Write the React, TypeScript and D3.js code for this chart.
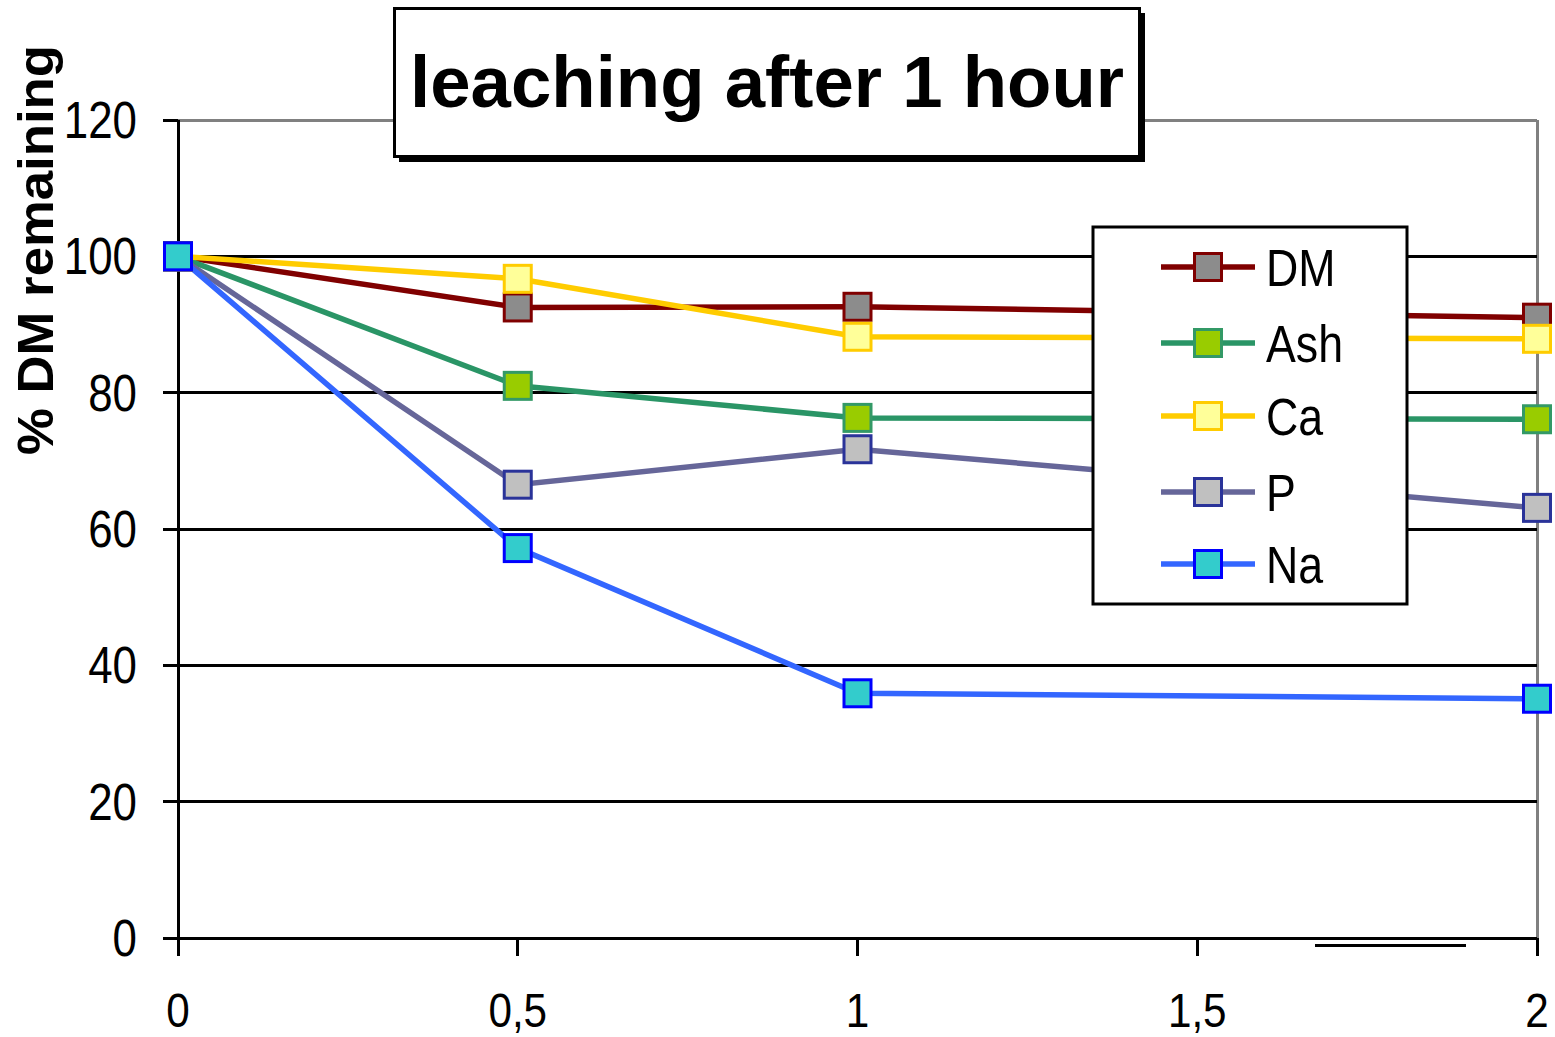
import React from "react";
import * as d3 from "d3";

const xValues = [0, 0.5, 1, 2];
const seriesNames = ["DM", "Ash", "Ca", "P", "Na"];
const dmValues = [100, 92.5, 92.6, 91.0];
const ashValues = [100, 81.0, 76.3, 76.1];
const caValues = [100, 96.7, 88.2, 87.9];
const pValues = [100, 66.5, 71.7, 63.1];
const naValues = [100, 57.2, 35.9, 35.1];
const yTicks = [0, 20, 40, 60, 80, 100, 120];
const xTicks = [0, 0.5, 1, 1.5, 2];
const xTickLabels = ["0", "0,5", "1", "1,5", "2"];

const lineColors = ["#800000", "#2A9566", "#FFCC00", "#666699", "#3366FF"];
const fillColors = ["#8C8C8C", "#99CC00", "#FFFF99", "#C0C0C0", "#33CCCC"];
const strokeColors = ["#800000", "#339966", "#FFCC00", "#2A3399", "#0000FF"];

const FONT = "'Liberation Sans', Arial, sans-serif";

export default function App() {
  const W = 1555, H = 1037;
  const x = d3.scaleLinear().domain([0, 2]).range([178, 1537]);
  const y = d3.scaleLinear().domain([0, 120]).range([938, 120]);
  const all = [dmValues, ashValues, caValues, pValues, naValues];
  const line = d3
    .line<number>()
    .x((_, i) => x(xValues[i]))
    .y((d) => y(d))
    .curve(d3.curveLinear);
  const ms = 27;
  return (
    <svg width={W} height={H} style={{ position: "absolute", left: 0, top: 0, background: "#fff" }}>
      <rect x={0} y={0} width={W} height={H} fill="#fff" />
      <g shapeRendering="crispEdges">
        <line x1={178} x2={1537} y1={120} y2={120} stroke="#808080" strokeWidth={3} />
        <line x1={1537} x2={1537} y1={120} y2={938} stroke="#808080" strokeWidth={3} />
        {yTicks.filter((t) => t > 0 && t < 120).map((t) => (
          <line key={t} x1={163} x2={1537} y1={y(t)} y2={y(t)} stroke="#000" strokeWidth={3} />
        ))}
        <line x1={178} x2={178} y1={120} y2={956} stroke="#000" strokeWidth={3} />
        {yTicks.map((t) => (
          <line key={"yt" + t} x1={163} x2={178} y1={y(t)} y2={y(t)} stroke="#000" strokeWidth={3} />
        ))}
        <line x1={163} x2={1537} y1={938} y2={938} stroke="#000" strokeWidth={3} />
        {xTicks.map((t) => (
          <line key={"xt" + t} x1={x(t)} x2={x(t)} y1={938} y2={956} stroke="#000" strokeWidth={3} />
        ))}
        <line x1={1315} x2={1466} y1={945} y2={945} stroke="#000" strokeWidth={3} />
      </g>
      {yTicks.map((t) => (
        <text
          key={"yl" + t}
          transform={`translate(137,${y(t) + 18}) scale(0.86,1)`}
          textAnchor="end"
          fontFamily={FONT}
          fontSize={51}
          fill="#000"
        >
          {t}
        </text>
      ))}
      {xTicks.map((t, i) => (
        <text
          key={"xl" + t}
          transform={`translate(${x(t)},1027) scale(0.88,1)`}
          textAnchor="middle"
          fontFamily={FONT}
          fontSize={48}
          fill="#000"
        >
          {xTickLabels[i]}
        </text>
      ))}
      <text
        transform={`translate(53,250) rotate(-90)`}
        textAnchor="middle"
        fontFamily={FONT}
        fontWeight="bold"
        fontSize={50}
        fill="#000"
        textLength={410}
        lengthAdjust="spacingAndGlyphs"
      >
        % DM remaining
      </text>
      {all.map((vals, si) => (
        <path key={"l" + si} d={line(vals) || ""} fill="none" stroke={lineColors[si]} strokeWidth={5.5} />
      ))}
      {all.map((vals, si) =>
        vals.map((v, i) => (
          <rect
            key={"m" + si + "-" + i}
            x={x(xValues[i]) - ms / 2}
            y={y(v) - ms / 2}
            width={ms}
            height={ms}
            fill={fillColors[si]}
            stroke={strokeColors[si]}
            strokeWidth={3}
          />
        ))
      )}
      <rect x={399} y={13} width={746} height={149} fill="#000" />
      <rect x={394.5} y={8.5} width={745} height={148} fill="#fff" stroke="#000" strokeWidth={3} />
      <text x={767} y={107} textAnchor="middle" fontFamily={FONT} fontWeight="bold" fontSize={72} fill="#000"
        textLength={714} lengthAdjust="spacingAndGlyphs">
        leaching after 1 hour
      </text>
      <rect x={1093} y={227} width={314} height={377} fill="#fff" stroke="#000" strokeWidth={3} />
      {seriesNames.map((n, i) => {
        const ly = [267, 343, 416, 492, 564][i];
        return (
          <g key={"lg" + n}>
            <line x1={1161} x2={1255} y1={ly} y2={ly} stroke={lineColors[i]} strokeWidth={5.5} />
            <rect x={1208 - ms / 2} y={ly - ms / 2} width={ms} height={ms} fill={fillColors[i]} stroke={strokeColors[i]} strokeWidth={3} />
            <text
              transform={`translate(1266,${ly + 19}) scale(0.86,1)`}
              fontFamily={FONT}
              fontSize={52}
              fill="#000"
            >
              {n}
            </text>
          </g>
        );
      })}
    </svg>
  );
}
